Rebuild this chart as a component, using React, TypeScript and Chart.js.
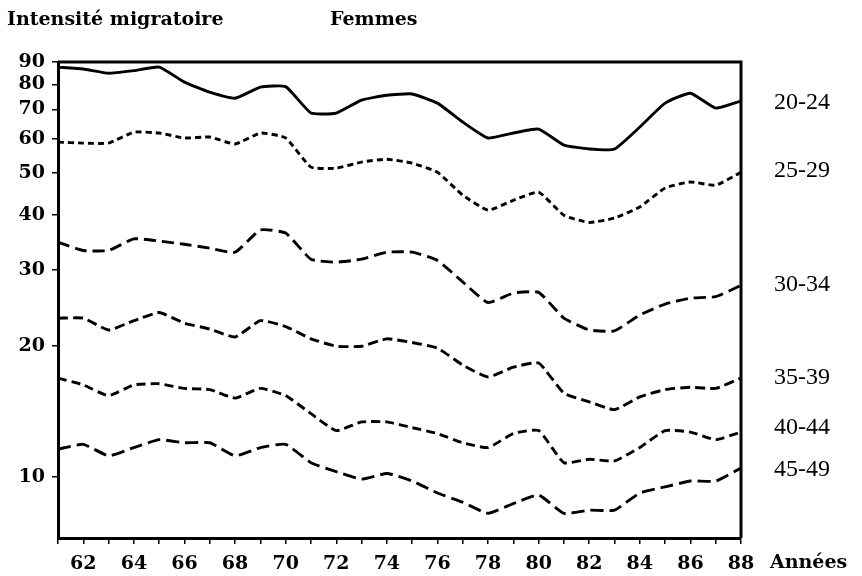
import React, { useEffect, useRef } from "react";
import { Chart, registerables } from "chart.js";
Chart.register(...registerables);

const years = [61,62,63,64,65,66,67,68,69,70,71,72,73,74,75,76,77,78,79,80,81,82,83,84,85,86,87,88];
const s20_24 = [87.6,86.7,84.8,86,87.6,80.9,76.7,74.3,78.8,79,68.7,68.7,73.6,75.5,76,72.4,65.5,60.2,61.8,63.1,58,56.8,56.8,63.8,72.4,76.3,70.5,73.2];
const s25_29 = [58.9,58.6,58.6,62.1,61.8,60.2,60.5,58.3,61.8,60.2,51.6,51.3,53,53.8,52.7,50.2,44.5,41.1,43.3,45.2,40,38.5,39.4,41.8,46.2,47.7,46.9,50.2];
const s30_34 = [34.7,33.2,33.2,35.3,34.9,34.3,33.6,32.9,37,36.4,31.7,31.2,31.7,32.9,32.9,31.5,28.1,25.2,26.5,26.6,23.2,21.8,21.7,23.6,25,25.8,26,27.6];
const s35_39 = [23.2,23.2,21.8,22.9,23.9,22.6,21.9,21,22.9,22.2,20.8,20,20,20.8,20.4,19.8,18.1,17,17.9,18.3,15.6,14.9,14.3,15.3,15.9,16.1,16,16.9];
const s40_44 = [16.9,16.3,15.4,16.3,16.4,16,15.9,15.2,16,15.4,14,12.8,13.4,13.4,13,12.6,12,11.7,12.6,12.8,10.8,11,10.9,11.7,12.8,12.7,12.2,12.7];
const s45_49 = [11.6,11.9,11.2,11.7,12.2,12,12,11.2,11.7,11.9,10.8,10.3,9.9,10.2,9.8,9.2,8.76,8.26,8.7,9.1,8.26,8.4,8.4,9.2,9.5,9.8,9.8,10.5];

const seriesLabels = ["20-24","25-29","30-34","35-39","40-44","45-49"];
const seriesValues = [s20_24, s25_29, s30_34, s35_39, s40_44, s45_49];
const seriesDash: number[][] = [[], [6,4], [12,6], [10,5], [9,5], [13,6]];
const yTicks = [10,20,30,40,50,60,70,80,90];
const labelY = [103,171,285,378,428,470];

export default function App() {
  const ref = useRef<HTMLCanvasElement>(null);
  useEffect(() => {
    const ctx = ref.current!;
    const textPlugin = {
      id: "texts",
      afterDraw(chart: any) {
        const c = chart.ctx;
        const a = chart.chartArea;
        c.save();
        c.strokeStyle = "#000";
        c.lineWidth = 3;
        c.beginPath();
        c.moveTo(a.left, a.top);
        c.lineTo(a.right, a.top);
        c.lineTo(a.right, a.bottom);
        c.stroke();
        c.fillStyle = "#000";
        c.textBaseline = "middle";
        c.textAlign = "left";
        c.font = "bold 19px 'DejaVu Serif'";
        c.fillText("Intensité migratoire", 7, 20);
        c.fillText("Femmes", 330, 20);
        c.fillText("Années", 770, 563);
        c.font = "24px 'Liberation Serif'";
        seriesLabels.forEach((l, i) => c.fillText(l, 774, labelY[i]));
        c.restore();
      },
    };
    const chart = new Chart(ctx, {
      type: "line",
      data: {
        datasets: seriesValues.map((vals, i) => ({
          label: seriesLabels[i],
          data: years.map((x, j) => ({ x, y: vals[j] })),
          borderColor: "#000",
          borderWidth: 2.9,
          borderDash: seriesDash[i],
          pointRadius: 0,
          tension: 0.15,
          fill: false,
        })),
      },
      options: {
        animation: false,
        responsive: false,
        layout: { padding: { left: 0, right: 121, top: 62, bottom: 0 } },
        plugins: { legend: { display: false }, tooltip: { enabled: false }, title: { display: false } },
        scales: {
          x: {
            type: "linear",
            min: 61,
            max: 88,
            afterFit: (s: any) => { s.height = 38; },
            ticks: {
              stepSize: 1,
              autoSkip: false,
              maxRotation: 0,
              color: "#000",
              padding: 9,
              font: { family: "'DejaVu Serif'", weight: "bold", size: 19 },
              callback: (v: any) => (Number(v) % 2 === 0 ? String(v) : ""),
            },
            grid: { drawOnChartArea: false, drawTicks: true, tickLength: 6, color: "#000", lineWidth: 1.5 },
            border: { color: "#000", width: 3 },
          },
          y: {
            type: "logarithmic",
            min: 7.25,
            max: 90,
            afterFit: (s: any) => { s.width = 58; },
            afterBuildTicks: (s: any) => { s.ticks = yTicks.map((v) => ({ value: v })); },
            ticks: {
              color: "#000",
              padding: 7,
              font: { family: "'DejaVu Serif'", weight: "bold", size: 19 },
              callback: (v: any) => String(v),
            },
            grid: { drawOnChartArea: false, drawTicks: true, tickLength: 6, color: "#000", lineWidth: 1.5 },
            border: { color: "#000", width: 3 },
          },
        },
      },
      plugins: [textPlugin],
    });
    return () => chart.destroy();
  }, []);
  return (
    <div style={{ position: "absolute", left: 0, top: 0, width: 862, height: 576, background: "#fff" }}>
      <canvas ref={ref} width={862} height={576} style={{ width: 862, height: 576 }} />
    </div>
  );
}
